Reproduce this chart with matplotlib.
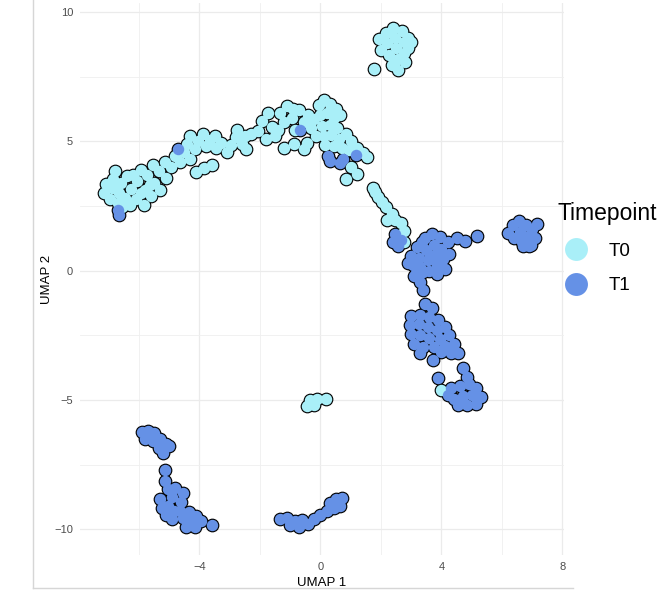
# UMAP by timepoint

import numpy as np
import matplotlib.pyplot as plt
from matplotlib.lines import Line2D

plt.rcParams['font.family'] = ['Liberation Sans', 'DejaVu Sans']

# T0 cells
t0_arc = [
    (-7.15, 3.0), (-7.1, 3.35), (-6.95, 2.75), (-6.9, 3.2), (-6.85, 3.55), (-6.7, 2.6),
    (-6.65, 3.0), (-6.6, 3.4), (-6.45, 2.8), (-6.4, 3.65), (-6.3, 2.55), (-6.25, 3.15),
    (-6.1, 2.75), (-6.05, 3.45), (-5.95, 3.9), (-5.85, 2.55), (-5.8, 3.1), (-5.75, 3.7),
    (-5.6, 2.9), (-5.55, 4.1), (-5.5, 3.4), (-5.35, 3.85), (-5.3, 3.1), (-5.15, 4.2),
    (-5.1, 3.6), (-4.95, 4.0), (-4.8, 4.45), (-4.65, 4.2), (-4.5, 4.6),
    (-6.8, 3.85), (-6.55, 2.45), (-6.2, 3.7), (-5.95, 3.0), (-5.65, 3.3),
    (-4.4, 4.9), (-4.3, 5.2), (-4.15, 4.7), (-4.05, 5.0), (-3.9, 5.3), (-3.8, 4.8),
    (-3.65, 5.05), (-3.45, 4.75), (-3.3, 4.95), (-3.1, 4.6), (-2.95, 4.85), (-2.8, 5.15),
    (-2.6, 4.9), (-2.45, 4.7), (-2.75, 5.45), (-2.5, 5.2), (-3.5, 5.2),
    (-4.3, 4.3), (-4.1, 3.8), (-3.85, 3.95), (-3.6, 4.1),
    (-2.3, 5.3), (-2.05, 5.4), (-1.95, 5.8), (-1.8, 5.1), (-1.75, 6.1), (-1.6, 5.55), (-1.5, 5.2),
    (-1.35, 6.1), (-1.2, 5.75), (-1.1, 6.35), (-0.95, 5.9), (-0.85, 5.45), (-0.7, 6.2),
    (-0.55, 5.75), (-0.4, 6.0), (-0.3, 5.5), (-0.2, 5.85), (-1.4, 5.45), (-0.9, 6.25),
    (-1.22, 4.75), (-0.89, 4.9), (-0.43, 4.95), (-0.55, 4.7),
    (-0.05, 6.4), (0.1, 6.6), (0.3, 6.45), (0.5, 6.25), (0.0, 6.0), (0.2, 6.1),
    (0.45, 5.9), (0.05, 5.6), (0.3, 5.65), (0.55, 5.5), (0.1, 5.2), (0.35, 5.25),
    (0.6, 5.1), (0.15, 4.85), (0.45, 4.8), (0.7, 4.75), (-0.15, 5.2), (0.65, 6.0),
    (0.85, 5.3), (1.0, 5.0), (1.2, 4.75), (1.4, 4.55), (1.55, 4.4), (0.95, 4.65),
    (1.0, 4.0), (1.2, 3.75), (0.85, 3.55),
]
t0_top = [
    (1.95, 8.95), (2.0, 8.55), (2.15, 9.2), (2.2, 8.8), (2.25, 8.35), (2.35, 7.95),
    (2.4, 9.4), (2.45, 9.0), (2.5, 8.6), (2.55, 8.2), (2.55, 7.75), (2.7, 9.25),
    (2.75, 8.85), (2.75, 8.4), (2.9, 9.0), (2.9, 8.6), (2.8, 8.05), (3.0, 8.85),
    (1.78, 7.78),
]
t0_chain = [
    (1.75, 3.2), (1.8, 3.05), (1.9, 2.85), (2.05, 2.65), (2.15, 2.45), (2.35, 2.2),
    (2.2, 1.95), (2.45, 1.95), (2.65, 1.85), (2.75, 1.55), (2.75, 1.1),
]
t0_mid = [(-0.45, -5.25), (-0.35, -5.0), (-0.2, -5.2), (-0.1, -4.98), (0.17, -4.95), (3.98, -4.6)]

# T1 cells
t1_arc = [
    (-6.7, 2.35), (-6.65, 2.15), (-4.72, 4.7), (-0.69, 5.44), (0.26, 4.44), (0.33, 4.25),
    (0.66, 4.17), (0.76, 4.3), (1.19, 4.48),
]
t1_right = [
    (2.45, 1.4), (2.4, 1.1), (2.55, 0.95), (2.65, 1.2),
    (3.0, 0.55), (3.05, 0.2), (3.2, 0.9), (3.25, 0.5), (3.3, 0.15), (3.45, 1.25),
    (3.5, 0.8), (3.55, 0.4), (3.6, 0.0), (3.7, 1.4), (3.75, 1.0), (3.8, 0.6),
    (3.85, 0.2), (3.95, 1.3), (4.0, 0.85), (4.05, 0.45), (4.1, 0.05), (4.2, 1.1),
    (4.25, 0.65), (3.35, 1.1), (2.9, 0.3), (3.15, -0.1), (3.4, -0.05), (3.85, -0.15),
    (4.52, 1.27), (4.79, 1.16), (5.18, 1.35),
    (3.1, -0.2), (3.3, -0.45), (3.4, -0.75), (3.25, -0.1),
]
t1_far = [
    (6.2, 1.45), (6.35, 1.75), (6.4, 1.25), (6.55, 1.9), (6.6, 1.5), (6.65, 1.1),
    (6.8, 1.75), (6.85, 1.35), (6.95, 1.0), (7.0, 1.6), (7.1, 1.25), (7.15, 1.8),
    (6.7, 0.95), (6.9, 0.95),
]
t1_mid = [
    (3.45, -1.3), (3.7, -1.45), (3.0, -1.75), (3.3, -1.7), (3.6, -1.8), (3.9, -1.9),
    (2.95, -2.1), (3.25, -2.05), (3.55, -2.2), (3.85, -2.3), (4.1, -2.2), (3.0, -2.45),
    (3.3, -2.5), (3.6, -2.6), (3.95, -2.65), (4.25, -2.5), (3.1, -2.85), (3.4, -2.95),
    (3.75, -2.95), (4.1, -2.9), (4.4, -2.85), (3.3, -3.2), (4.0, -3.15), (4.3, -3.2),
    (4.55, -3.2), (3.72, -3.45),
]
t1_low = [
    (4.7, -3.75), (4.85, -4.1), (3.9, -4.15), (4.3, -4.55), (4.6, -4.45), (4.9, -4.4),
    (5.15, -4.55), (4.4, -4.95), (4.7, -4.85), (5.0, -4.8), (5.3, -4.9), (4.55, -5.2),
    (4.85, -5.2), (5.15, -5.15), (4.2, -4.8),
]
t1_bottom_left = [
    (-5.9, -6.25), (-5.7, -6.2), (-5.5, -6.3), (-5.8, -6.5), (-5.55, -6.6), (-5.3, -6.5),
    (-5.1, -6.7), (-5.35, -6.85), (-5.2, -7.05), (-5.0, -6.8), (-5.75, -6.35),
    (-5.15, -7.7), (-5.15, -8.15),
    (-5.05, -8.45), (-4.8, -8.4), (-4.55, -8.6), (-4.9, -8.75), (-4.6, -8.95),
    (-5.3, -8.85), (-5.25, -9.2), (-5.05, -9.1), (-5.1, -9.45), (-4.85, -9.3),
    (-4.9, -9.6), (-4.65, -9.3), (-4.55, -9.55), (-4.35, -9.35), (-4.3, -9.7),
    (-4.1, -9.5), (-4.45, -9.9), (-4.15, -9.9), (-3.95, -9.7), (-3.6, -9.85),
]
t1_bottom_mid = [
    (-1.35, -9.6), (-1.1, -9.55), (-0.85, -9.7), (-1.0, -9.85), (-0.6, -9.65),
    (-0.4, -9.8), (-0.2, -9.6), (0.0, -9.45), (0.2, -9.3), (0.3, -9.0), (0.5, -8.85),
    (0.65, -9.1), (0.45, -9.2), (0.7, -8.8), (-0.7, -9.9),
]

groups = ['T0', 'T1']
colors = {'T0': '#A9EFF8', 'T1': '#6591E6'}

t0 = np.array(t0_arc + t0_top + t0_chain + t0_mid)
t1 = np.array(t1_arc + t1_right + t1_far + t1_mid + t1_low + t1_bottom_left + t1_bottom_mid)
points = {'T0': t0, 'T1': t1}

fig = plt.figure(figsize=(6.64, 5.93), dpi=100)
ax = fig.add_axes([80 / 664, 38 / 593, 484 / 664, 552 / 593])

# black halo underneath, then the coloured points on top
for g in groups:
    ax.scatter(points[g][:, 0], points[g][:, 1], s=98, c='black', linewidths=0, zorder=2)
for g in groups:
    ax.scatter(points[g][:, 0], points[g][:, 1], s=68, c=colors[g], linewidths=0, zorder=3)

ax.set_xlim(-7.95, 8.05)
ax.set_ylim(-11.0, 10.35)
ax.set_xticks([-4, 0, 4, 8])
ax.set_yticks([-10, -5, 0, 5, 10])
ax.set_xticks([-6, -2, 2, 6], minor=True)
ax.set_yticks([-7.5, -2.5, 2.5, 7.5], minor=True)
ax.grid(which='major', color='#EBEBEB', linewidth=0.9)
ax.grid(which='minor', color='#EFEFEF', linewidth=0.6)
ax.set_axisbelow(True)
for s in ax.spines.values():
    s.set_visible(False)
ax.tick_params(which='both', length=0, labelsize=8, labelcolor='#4D4D4D', pad=5)
ax.set_xlabel('UMAP 1', fontsize=9.5, labelpad=4)
ax.set_ylabel('UMAP 2', fontsize=9.5, labelpad=1)

handles = [Line2D([], [], marker='o', linestyle='none', markersize=16.5,
                  markerfacecolor=colors[g], markeredgewidth=0) for g in groups]
leg = ax.legend(handles, groups, loc='center left', bbox_to_anchor=(550 / 664, 345 / 593),
                bbox_transform=fig.transFigure, frameon=False, title='Timepoint',
                title_fontsize=16.5, fontsize=13.5, handletextpad=0.75, labelspacing=0.95,
                alignment='left', borderaxespad=0)

# frame of the screenshot window
fig.add_artist(Line2D([33 / 664, 33 / 664], [5 / 593, 1.0], color='#D6D6D6', lw=1))
fig.add_artist(Line2D([33 / 664, 573 / 664], [5 / 593, 5 / 593], color='#D6D6D6', lw=1))

fig.savefig('out.png', dpi=100)
